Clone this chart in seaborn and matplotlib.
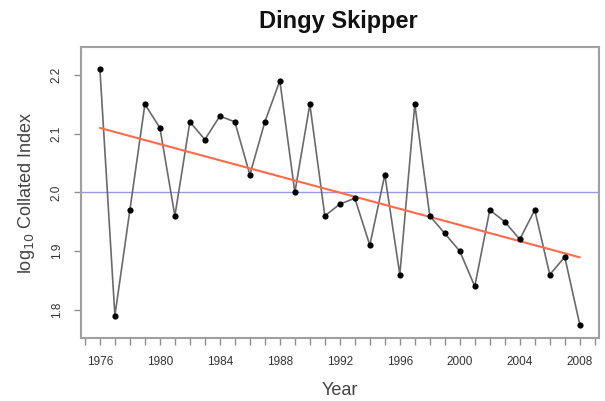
import numpy as np
import pandas as pd
import matplotlib
matplotlib.use("Agg")
import matplotlib.pyplot as plt
import seaborn as sns
from matplotlib.ticker import MultipleLocator

years = list(range(1976, 2009))
index_values = [2.21, 1.79, 1.97, 2.15, 2.11, 1.96, 2.12, 2.09, 2.13, 2.12,
                2.03, 2.12, 2.19, 2.00, 2.15, 1.96, 1.98, 1.99, 1.91, 2.03,
                1.86, 2.15, 1.96, 1.93, 1.90, 1.84, 1.97, 1.95, 1.92, 1.97,
                1.86, 1.89, 1.775]
reference_level = 2.0
x_ticks = [1976, 1980, 1984, 1988, 1992, 1996, 2000, 2004, 2008]
y_ticks = [1.8, 1.9, 2.0, 2.1, 2.2]

df = pd.DataFrame({"Year": years, "Index": index_values})

sns.set_theme(style="white")
plt.rcParams["font.family"] = ["Liberation Sans", "DejaVu Sans"]

fig = plt.figure(figsize=(6.05, 4.01), dpi=100)
ax = fig.add_axes([0.1334, 0.157, 0.990 - 0.1334, 0.8835 - 0.157])

ax.axhline(reference_level, color="#9a9ae0", lw=1.0, zorder=1)
sns.lineplot(data=df, x="Year", y="Index", ax=ax, color="#6a6a6a", lw=1.2, zorder=2)
sns.regplot(data=df, x="Year", y="Index", ax=ax, scatter=False, ci=None,
            truncate=True, line_kws={"color": "#ff6a4a", "lw": 1.5, "zorder": 3})
sns.scatterplot(data=df, x="Year", y="Index", ax=ax, color="black", s=20,
                edgecolor="black", linewidth=0, zorder=4)

ax.set_xlim(1974.72, 2009.28)
ax.set_ylim(1.752, 2.248)
ax.set_xticks(x_ticks)
ax.set_xticklabels([str(t) for t in x_ticks])
ax.xaxis.set_minor_locator(MultipleLocator(1))
ax.set_yticks(y_ticks)
ax.set_yticklabels([f"{t:.1f}" for t in y_ticks], rotation=90, va="center")

ax.tick_params(axis="both", which="major", direction="out", length=5, width=1,
               color="#909090", labelsize=8.5, labelcolor="#333333", pad=8, bottom=True, left=True)
ax.tick_params(axis="x", which="minor", direction="out", length=5, width=1,
               color="#909090", bottom=True)
for s in ax.spines.values():
    s.set_color("#a0a0a0")
    s.set_linewidth(1.5)

ax.set_xlabel("Year", fontsize=13, color="#444444", labelpad=10)
ax.set_ylabel("log$_{10}$ Collated Index", fontsize=13, color="#444444", labelpad=10)
fig.text(0.5585, 0.947, "Dingy Skipper", ha="center", va="center",
         fontsize=17, fontweight="bold", color="#111111")

fig.savefig("out.png", dpi=100)
